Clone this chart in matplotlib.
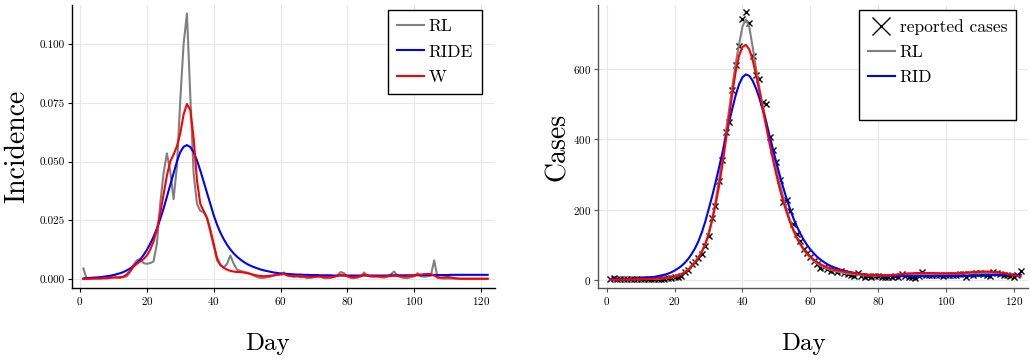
import matplotlib
matplotlib.use("Agg")
import matplotlib.pyplot as plt
from matplotlib.lines import Line2D
from matplotlib.ticker import FormatStrFormatter
import numpy as np

plt.rcParams['font.family'] = ['cmr10', 'DejaVu Serif']
plt.rcParams['axes.formatter.use_mathtext'] = True
plt.rcParams['mathtext.fontset'] = 'cm'

days = list(range(1, 123))

# left panel: incidence
incRL = [0.0045, 0.0002, 0.0003, 0.0003, 0.0004, 0.0004, 0.0005, 0.0006, 0.0010, 0.0017,
         0.0006, 0.0005, 0.0008, 0.0012, 0.0030, 0.0060, 0.0080, 0.0085, 0.0068, 0.0065,
         0.0068, 0.0075, 0.0150, 0.0320, 0.0450, 0.0535, 0.0460, 0.0340, 0.0480, 0.0760,
         0.1000, 0.1130, 0.0780, 0.0450, 0.0320, 0.0290, 0.0285, 0.0260, 0.0200, 0.0140,
         0.0080, 0.0060, 0.0050, 0.0065, 0.0100, 0.0065, 0.0040, 0.0035, 0.0030, 0.0028,
         0.0022, 0.0015, 0.0008, 0.0005, 0.0005, 0.0008, 0.0010, 0.0015, 0.0020, 0.0022,
         0.0028, 0.0015, 0.0012, 0.0010, 0.0012, 0.0008, 0.0008, 0.0004, 0.0005, 0.0008,
         0.0015, 0.0010, 0.0004, 0.0004, 0.0005, 0.0010, 0.0015, 0.0030, 0.0025, 0.0012,
         0.0005, 0.0004, 0.0006, 0.0010, 0.0028, 0.0015, 0.0010, 0.0010, 0.0012, 0.0008,
         0.0006, 0.0010, 0.0020, 0.0032, 0.0015, 0.0008, 0.0005, 0.0004, 0.0008, 0.0012,
         0.0025, 0.0012, 0.0010, 0.0012, 0.0015, 0.0080, 0.0005, 0.0003, 0.0002, 0.0002,
         0.0002, 0.0002, 0.0002, 0.0002, 0.0002, 0.0002, 0.0002, 0.0002, 0.0002, 0.0002,
         0.0002, 0.0002]
incRIDE = [0.0003, 0.0004, 0.0005, 0.0006, 0.0007, 0.0008, 0.0010, 0.0012, 0.0014, 0.0017,
           0.0021, 0.0025, 0.0030, 0.0037, 0.0045, 0.0055, 0.0068, 0.0083, 0.0102, 0.0124,
           0.0150, 0.0180, 0.0215, 0.0255, 0.0300, 0.0350, 0.0400, 0.0450, 0.0500, 0.0540,
           0.0563, 0.0570, 0.0562, 0.0540, 0.0505, 0.0462, 0.0415, 0.0367, 0.0320, 0.0272,
           0.0232, 0.0198, 0.0170, 0.0146, 0.0126, 0.0109, 0.0095, 0.0083, 0.0073, 0.0064,
           0.0057, 0.0051, 0.0046, 0.0041, 0.0037, 0.0034, 0.0031, 0.0028, 0.0026, 0.0024,
           0.0023, 0.0022, 0.0021, 0.0020, 0.0019, 0.0019, 0.0018, 0.0018, 0.0017, 0.0017,
           0.0017, 0.0016, 0.0016, 0.0016, 0.0016, 0.0015, 0.0015, 0.0015, 0.0015, 0.0015,
           0.0015, 0.0015, 0.0015, 0.0015, 0.0015, 0.0015, 0.0015, 0.0015, 0.0015, 0.0015,
           0.0015, 0.0015, 0.0016, 0.0016, 0.0016, 0.0016, 0.0016, 0.0016, 0.0016, 0.0016,
           0.0016, 0.0016, 0.0017, 0.0017, 0.0017, 0.0017, 0.0017, 0.0017, 0.0017, 0.0017,
           0.0018, 0.0018, 0.0018, 0.0018, 0.0018, 0.0018, 0.0018, 0.0018, 0.0018, 0.0018,
           0.0018, 0.0018]
incW = [0.0000, 0.0001, 0.0001, 0.0002, 0.0002, 0.0002, 0.0003, 0.0003, 0.0005, 0.0006,
        0.0007, 0.0008, 0.0010, 0.0020, 0.0035, 0.0052, 0.0065, 0.0075, 0.0085, 0.0100,
        0.0125, 0.0160, 0.0210, 0.0280, 0.0360, 0.0440, 0.0500, 0.0530, 0.0565, 0.0620,
        0.0700, 0.0745, 0.0720, 0.0600, 0.0420, 0.0320, 0.0290, 0.0260, 0.0210, 0.0150,
        0.0090, 0.0060, 0.0048, 0.0040, 0.0035, 0.0032, 0.0030, 0.0030, 0.0028, 0.0025,
        0.0022, 0.0018, 0.0015, 0.0013, 0.0012, 0.0013, 0.0014, 0.0016, 0.0018, 0.0019,
        0.0022, 0.0016, 0.0014, 0.0012, 0.0012, 0.0012, 0.0011, 0.0010, 0.0009, 0.0009,
        0.0010, 0.0010, 0.0009, 0.0008, 0.0008, 0.0010, 0.0013, 0.0018, 0.0016, 0.0012,
        0.0009, 0.0008, 0.0010, 0.0014, 0.0019, 0.0016, 0.0013, 0.0012, 0.0011, 0.0011,
        0.0011, 0.0012, 0.0013, 0.0014, 0.0013, 0.0012, 0.0011, 0.0012, 0.0014, 0.0016,
        0.0018, 0.0019, 0.0021, 0.0022, 0.0021, 0.0015, 0.0008, 0.0006, 0.0007, 0.0009,
        0.0007, 0.0004, 0.0002, 0.0001, 0.0001, 0.0001, 0.0001, 0.0001, 0.0001, 0.0001,
        0.0001, 0.0001]

# right panel: cases
reported = [3, 6, 3, 4, 2, 3, 4, 3, 2, 3, 2, 3, 4, 3, 3, 4, 4, 5, 5, 9,
            10, 12, 22, 28, 45, 50, 62, 75, 98, 125, 175, 210, 280, 340, 420, 450, 540, 610, 665, 740,
            760, 730, 635, 583, 570, 505, 500, 405, 370, 335, 285, 222, 228, 195, 160, 130, 110, 88, 78, 65,
            55, 45, 35, 38, 30, 25, 28, 22, 25, 20, 18, 15, 12, 20, 12, 10, 12, 10, 12, 11,
            10, 8, 9, 10, 11, 10, 18, 12, 10, 8, 5, 12, 24, 15, 14, 15, 14, 13, 12, 14,
            13, 15, 14, 16, 17, 10, 18, 14, 20, 19, 17, 15, 12, 22, 20, 18, 15, 14, 12, 8,
            14, 25]
casesRL = [2, 2, 2, 2, 2, 2, 2, 2, 2, 2, 3, 3, 3, 3, 3, 4, 5, 6, 7, 9,
           12, 16, 22, 30, 40, 52, 65, 80, 100, 130, 170, 220, 280, 345, 415, 480, 550, 615, 670, 720,
           740, 718, 662, 600, 545, 495, 450, 405, 360, 315, 275, 235, 200, 170, 145, 122, 103, 87, 74, 63,
           54, 47, 41, 36, 32, 29, 26, 24, 22, 20, 18, 17, 16, 15, 14, 13, 13, 13, 12, 12,
           12, 12, 12, 12, 12, 13, 13, 13, 13, 14, 14, 14, 15, 15, 15, 15, 16, 16, 16, 16,
           16, 17, 17, 17, 18, 18, 18, 19, 19, 19, 20, 20, 20, 19, 19, 18, 17, 17, 16, 15,
           15, 14]
casesRID = [2, 2, 2.5, 2.5, 3, 3, 3.5, 4, 4.5, 5, 6, 7, 8, 9, 11, 13, 15, 18, 22, 27,
            33, 40, 49, 60, 74, 90, 110, 135, 165, 200, 236, 275, 316, 358, 402, 446, 487, 525, 556, 576,
            584, 580, 566, 544, 516, 483, 447, 409, 371, 333, 297, 263, 231, 202, 176, 153, 133, 115, 100, 87,
            76, 66, 58, 51, 45, 40, 36, 32, 29, 26, 24, 22, 20, 19, 17, 16, 15, 14, 14, 13,
            12, 12, 12, 11, 11, 11, 11, 11, 11, 11, 11, 11, 11, 11, 11, 11, 11, 11, 11, 11,
            12, 12, 12, 12, 12, 12, 12, 12, 12, 12, 13, 13, 14, 14, 14, 15, 15, 15, 15, 15,
            15, 15]
casesW = [0, 0.5, 1, 1, 1.5, 1.5, 2, 2, 2.5, 2.5, 3, 3, 3.5, 4, 4.5, 5, 6, 7, 8, 10,
          13, 17, 22, 29, 38, 49, 63, 80, 102, 130, 168, 212, 262, 322, 390, 460, 530, 592, 638, 662,
          668, 655, 625, 583, 535, 485, 435, 387, 341, 298, 259, 224, 193, 165, 141, 120, 103, 88, 76, 66,
          58, 51, 45, 40, 36, 33, 30, 28, 26, 24, 22, 21, 20, 18, 17, 16, 15, 14, 14, 13,
          13, 13, 13, 14, 15, 16, 17, 18, 19, 19, 20, 20, 20, 20, 20, 20, 19, 19, 19, 19,
          19, 19, 19, 20, 20, 21, 22, 23, 23, 24, 24, 24, 24, 23, 22, 21, 20, 18, 16, 14,
          12, 10]

fig = plt.figure(figsize=(10.3, 3.6), dpi=100)
ax1 = fig.add_axes([0.0699, 0.2, 0.4107, 0.786])
ax2 = fig.add_axes([0.5806, 0.2, 0.4175, 0.786])

def Style(ax, spinecolor):
    for s in ['top', 'right']:
        ax.spines[s].set_visible(False)
    for s in ['left', 'bottom']:
        ax.spines[s].set_color(spinecolor)
        ax.spines[s].set_linewidth(1.0)
    ax.grid(True, color='#e8e8e8', linewidth=0.8)
    ax.set_axisbelow(True)
    ax.tick_params(direction='out', length=3, width=0.8, labelsize=8, color=spinecolor, pad=2)

legendOpts = dict(loc='upper right', fontsize=12.5, handlelength=1.55, fancybox=False, edgecolor='black',
                  framealpha=1, borderaxespad=0, handletextpad=0.3, labelspacing=0.58, borderpad=0.5)

# left
ax1.plot(days, incRL, color='gray', lw=1.5, label='RL')
ax1.plot(days, incRIDE, color='blue', lw=1.5, label='RIDE')
ax1.plot(days, incW, color='red', lw=1.5, label='W')
ax1.set_xlim(-2.4, 124.2)
ax1.set_ylim(-0.0038, 0.1166)
ax1.set_xticks([0, 20, 40, 60, 80, 100, 120])
ax1.set_yticks([0, 0.025, 0.05, 0.075, 0.1])
ax1.yaxis.set_major_formatter(FormatStrFormatter('%.3f'))
Style(ax1, 'black')
ax1.set_xlabel('Day', fontsize=18)
ax1.set_ylabel('Incidence', fontsize=20)
ax1.xaxis.set_label_coords(0.463, -0.159)
ax1.yaxis.set_label_coords(-0.099, 0.5)
ax1.legend(bbox_to_anchor=(0.969, 0.982), **legendOpts).get_frame().set_linewidth(1.0)

# right
ax2.plot(days, reported, linestyle='none', marker='x', color='black', markersize=3.8, mew=1.0)
ax2.plot(days, casesRL, color='gray', lw=1.5)
ax2.plot(days, casesRID, color='blue', lw=1.5)
ax2.plot(days, casesW, color='red', lw=1.5)
ax2.set_xlim(-2.6, 124.2)
ax2.set_ylim(-22.6, 781)
ax2.set_xticks([0, 20, 40, 60, 80, 100, 120])
ax2.set_yticks([0, 200, 400, 600])
Style(ax2, '#555555')
ax2.set_xlabel('Day', fontsize=18)
ax2.set_ylabel('Cases', fontsize=20)
ax2.xaxis.set_label_coords(0.477, -0.159)
ax2.yaxis.set_label_coords(-0.062, 0.5)
handles = [Line2D([], [], linestyle='none', marker='x', color='black', markersize=13, mew=1.0),
           Line2D([], [], color='gray', lw=1.5),
           Line2D([], [], color='blue', lw=1.5),
           Line2D([], [], color='none', lw=1.5)]
labels = ['reported cases', 'RL', 'RID', ' ']
ax2.legend(handles, labels, bbox_to_anchor=(0.972, 0.982), **legendOpts).get_frame().set_linewidth(1.0)

fig.savefig('out.png', dpi=100)
